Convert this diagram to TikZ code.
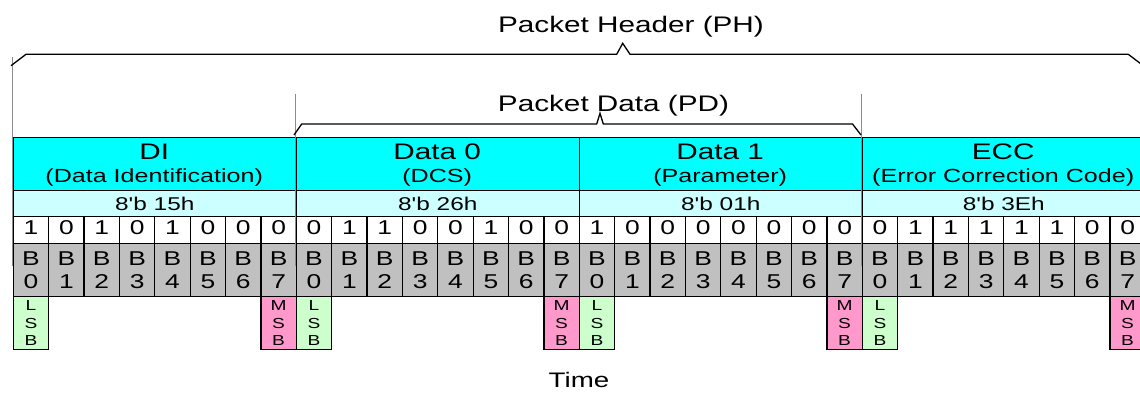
\documentclass[tikz,border=0pt]{standalone}
\usepackage{fontspec}
\setmainfont{Liberation Sans}
\usepackage{graphicx}
\newcommand{\xw}[1]{\scalebox{1.32}[1]{#1}}
\definecolor{hdrcyan}{HTML}{00FFFF}
\definecolor{valcyan}{HTML}{CCFFFF}
\definecolor{bitgray}{HTML}{C0C0C0}
\definecolor{lsbgreen}{HTML}{CCFFCC}
\definecolor{msbpink}{HTML}{FF99CC}
\definecolor{guidegray}{HTML}{8C8C8C}
\begin{document}
\begin{tikzpicture}[x=1pt,y=-1pt,
  cellbox/.style={draw=black, line width=1.2pt, inner sep=0pt, anchor=north west},
  hdrbox/.style={cellbox, fill=hdrcyan, minimum width=283pt, minimum height=53.3pt},
  valbox/.style={cellbox, fill=valcyan, minimum width=283pt, minimum height=26pt,
    font=\fontsize{18.5}{20}\selectfont, text depth=0pt},
  bitbox/.style={cellbox, fill=white, minimum width=35.375pt, minimum height=26.7pt,
    font=\fontsize{20}{22}\selectfont, text depth=4.5pt},
  numbox/.style={cellbox, fill=bitgray, minimum width=35.375pt, minimum height=53.3pt,
    font=\fontsize{20}{23.3}\selectfont, align=center},
  lsbbox/.style={cellbox, fill=lsbgreen, minimum width=35.375pt, minimum height=53pt,
    font=\fontsize{14.5}{17.5}\selectfont, align=center},
  msbbox/.style={lsbbox, fill=msbpink},
  titletext/.style={anchor=base, inner sep=0pt, font=\fontsize{22.5}{24}\selectfont},
  subtext/.style={anchor=base, inner sep=0pt, font=\fontsize{19}{21}\selectfont},
  bracetext/.style={anchor=base, inner sep=0pt, font=\fontsize{22.5}{24}\selectfont},
  bracepath/.style={draw=black, line width=1.3pt, line join=miter},
  guide/.style={draw=guidegray, line width=1.2pt}
]
\useasboundingbox (0,0) rectangle (1140,399);
\begin{scope}
\clip (0,0) rectangle (1140,399);
\fill[white] (0,0) rectangle (1140,399);

% sections
\def\secx{12.7}
\foreach \s/\ttl/\sub/\val/\bits in {
  0/DI/(Data Identification)/15h/{1,0,1,0,1,0,0,0},
  1/Data 0/(DCS)/26h/{0,1,1,0,0,1,0,0},
  2/Data 1/(Parameter)/01h/{1,0,0,0,0,0,0,0},
  3/ECC/(Error Correction Code)/3Eh/{0,1,1,1,1,1,0,0}} {
  \pgfmathsetmacro{\xo}{12.7+\s*283}
  \node[hdrbox] (hdr-\s) at (\xo,136.7) {};
  \node[titletext] (ttl-\s) at (\xo+141.5,159.3) {\xw{\ttl}};
  \node[subtext] (sub-\s) at (\xo+141.5,182.5) {\xw{\sub}};
  \node[valbox] (val-\s) at (\xo,190) {\xw{8\textquotesingle b \val}};
  \foreach \b [count=\i from 0] in \bits {
    \node[bitbox] (bit-\s-\i) at (\xo+\i*35.375,216) {\xw{\b}};
    \node[numbox] (num-\s-\i) at (\xo+\i*35.375,242.7) {\xw{B}\\\xw{\i}};
  }
  \node[lsbbox] (lsb-\s) at (\xo,296) {\xw{L}\\\xw{S}\\\xw{B}};
  \node[msbbox] (msb-\s) at (\xo+7*35.375,296) {\xw{M}\\\xw{S}\\\xw{B}};
}

% guide lines
\coordinate (gPHl) at (12.7,57);
\coordinate (gPDl) at (295.7,94);
\coordinate (gPDr) at (861.7,94);
\draw[guide] (gPHl) -- (gPHl |- 0,266);
\draw[guide] (gPDl) -- (gPDl |- 0,266);
\draw[guide] (gPDr) -- (gPDr |- 0,266);

% braces
\draw[bracepath] (11,65.7) -- (26,54.3) -- (616.7,54.3) -- (622.7,43.3) -- (630,54.3) -- (1128.3,54.3) -- (1143.3,65.7);
\draw[bracepath] (294,135) -- (301.7,124) -- (596.7,124) -- (600,113.3) -- (603.3,124) -- (852.5,124) -- (861,135);

\node[bracetext] (ph) at (631,32.3) {\xw{Packet Header (PH)}};
\node[bracetext] (pd) at (613.5,111.7) {\xw{Packet Data (PD)}};
\node[bracetext, font=\fontsize{21}{23}\selectfont] (time) at (579,387.3) {\xw{Time}};
\end{scope}
\end{tikzpicture}
\end{document}
